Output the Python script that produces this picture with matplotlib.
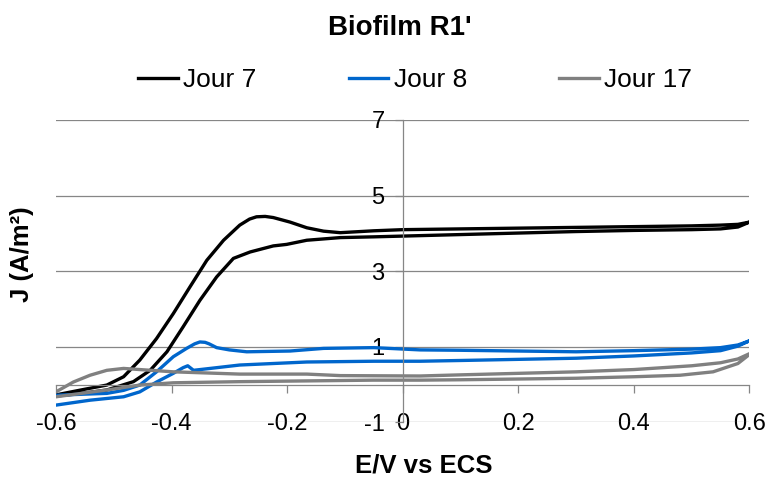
import matplotlib.pyplot as plt

plt.rcParams['font.family'] = ['Liberation Sans', 'DejaVu Sans']

# Jour 7 : branche avec pic puis branche retour
j7_up_e = [-0.6, -0.55, -0.512, -0.483, -0.455, -0.426, -0.397, -0.368, -0.339, -0.31,
           -0.282, -0.265, -0.253, -0.238, -0.224, -0.195, -0.166, -0.137, -0.108, -0.05,
           0.0, 0.1, 0.2, 0.3, 0.4, 0.5, 0.55, 0.58, 0.6]
j7_up_j = [-0.27, -0.12, -0.01, 0.21, 0.65, 1.22, 1.88, 2.59, 3.29, 3.82,
           4.22, 4.38, 4.44, 4.45, 4.42, 4.30, 4.15, 4.06, 4.02, 4.07,
           4.10, 4.12, 4.14, 4.16, 4.18, 4.20, 4.22, 4.24, 4.30]
j7_lo_e = [-0.6, -0.55, -0.512, -0.466, -0.437, -0.408, -0.38, -0.351, -0.322, -0.293,
           -0.264, -0.224, -0.201, -0.166, -0.108, -0.05, 0.0, 0.1, 0.2, 0.3,
           0.4, 0.5, 0.55, 0.58, 0.6]
j7_lo_j = [-0.30, -0.22, -0.14, 0.08, 0.38, 0.87, 1.53, 2.23, 2.85, 3.34,
           3.51, 3.67, 3.71, 3.82, 3.89, 3.91, 3.93, 3.97, 4.01, 4.05,
           4.08, 4.10, 4.12, 4.17, 4.30]

# Jour 8
j8_up_e = [-0.6, -0.55, -0.512, -0.483, -0.455, -0.426, -0.397, -0.374, -0.36, -0.351,
           -0.342, -0.335, -0.322, -0.30, -0.27, -0.195, -0.137, -0.05, 0.03, 0.1,
           0.2, 0.3, 0.4, 0.5, 0.55, 0.58, 0.6]
j8_up_j = [-0.28, -0.25, -0.23, -0.15, -0.01, 0.34, 0.74, 0.96, 1.08, 1.13,
           1.12, 1.08, 0.98, 0.92, 0.87, 0.89, 0.96, 0.98, 0.92, 0.91,
           0.89, 0.87, 0.90, 0.94, 0.98, 1.05, 1.16]
j8_lo_e = [-0.6, -0.541, -0.483, -0.455, -0.426, -0.397, -0.38, -0.372, -0.362, -0.339,
           -0.282, -0.166, -0.05, 0.03, 0.1, 0.2, 0.3, 0.4, 0.5, 0.55,
           0.58, 0.6]
j8_lo_j = [-0.54, -0.41, -0.32, -0.19, 0.07, 0.30, 0.45, 0.50, 0.38, 0.42,
           0.52, 0.60, 0.62, 0.62, 0.64, 0.67, 0.70, 0.76, 0.84, 0.90,
           1.02, 1.16]

# Jour 17
j17_up_e = [-0.6, -0.57, -0.541, -0.512, -0.483, -0.455, -0.397, -0.282, -0.166, -0.108,
            0.03, 0.1, 0.2, 0.3, 0.4, 0.5, 0.55, 0.58, 0.6]
j17_up_j = [-0.19, 0.07, 0.25, 0.38, 0.43, 0.40, 0.34, 0.28, 0.28, 0.24,
            0.23, 0.26, 0.30, 0.34, 0.40, 0.50, 0.58, 0.68, 0.82]
j17_lo_e = [-0.6, -0.512, -0.455, -0.397, -0.282, -0.166, -0.051, 0.03, 0.1, 0.2,
            0.3, 0.4, 0.48, 0.537, 0.58, 0.6]
j17_lo_j = [-0.32, -0.14, -0.01, 0.05, 0.08, 0.10, 0.12, 0.12, 0.13, 0.15,
            0.17, 0.21, 0.25, 0.34, 0.56, 0.80]

series = [
    ('Jour 7', j7_lo_e, j7_lo_j, j7_up_e, j7_up_j, 'black'),
    ('Jour 8', j8_lo_e, j8_lo_j, j8_up_e, j8_up_j, '#0066CC'),
    ('Jour 17', j17_lo_e, j17_lo_j, j17_up_e, j17_up_j, '#808080'),
]

x_ticks = [-0.6, -0.4, -0.2, 0, 0.2, 0.4, 0.6]
y_ticks = [-1, 1, 3, 5, 7]

fig = plt.figure(figsize=(7.69, 4.8), dpi=100)
ax = fig.add_axes([0.0728, 0.1198, 0.9018, 0.6302])

handles = []
for name, e_lo, j_lo, e_up, j_up, col in series:
    # boucle complète : aller sur une branche, retour sur l'autre
    e = list(e_lo) + list(reversed(e_up))
    j = list(j_lo) + list(reversed(j_up))
    h, = ax.plot(e, j, color=col, lw=2.4, label=name, solid_joinstyle='round')
    handles.append(h)

ax.set_xlim(-0.6, 0.6)
ax.set_ylim(-1, 7)
ax.set_xticks(x_ticks)
ax.set_xticklabels(['-0.6', '-0.4', '-0.2', '0', '0.2', '0.4', '0.6'])
ax.set_yticks(y_ticks)
ax.set_yticklabels([str(v) for v in y_ticks])

ax.grid(axis='y', color='#868686', lw=0.9)
for gl in ax.yaxis.get_gridlines():
    gl.set_clip_on(False)
ax.set_axisbelow(True)
for s in ['top', 'right']:
    ax.spines[s].set_visible(False)
ax.spines['left'].set_position(('data', 0))
ax.spines['bottom'].set_position(('data', 0))
for s in ['left', 'bottom']:
    ax.spines[s].set_color('#868686')
    ax.spines[s].set_linewidth(0.9)
ax.tick_params(axis='both', color='#868686', length=6, width=0.9, labelsize=17)
ax.tick_params(axis='x', pad=14.5)
ax.tick_params(axis='y', pad=7)

fig.text(0.551, 0.031, 'E/V vs ECS', fontsize=18.5, fontweight='bold',
         ha='center', va='center')
fig.text(0.029, 0.471, 'J (A/m²)', fontsize=18.5, fontweight='bold', rotation=90,
         ha='center', va='center')
fig.text(0.52, 0.942, "Biofilm R1'", fontsize=20, fontweight='bold',
         ha='center', va='center')

fig.legend(handles=handles, loc='center', bbox_to_anchor=(0.54, 0.833), ncol=3,
           frameon=False, fontsize=19, handlelength=1.5, handletextpad=0.2,
           columnspacing=3.5)

fig.savefig('out.png', dpi=100)
